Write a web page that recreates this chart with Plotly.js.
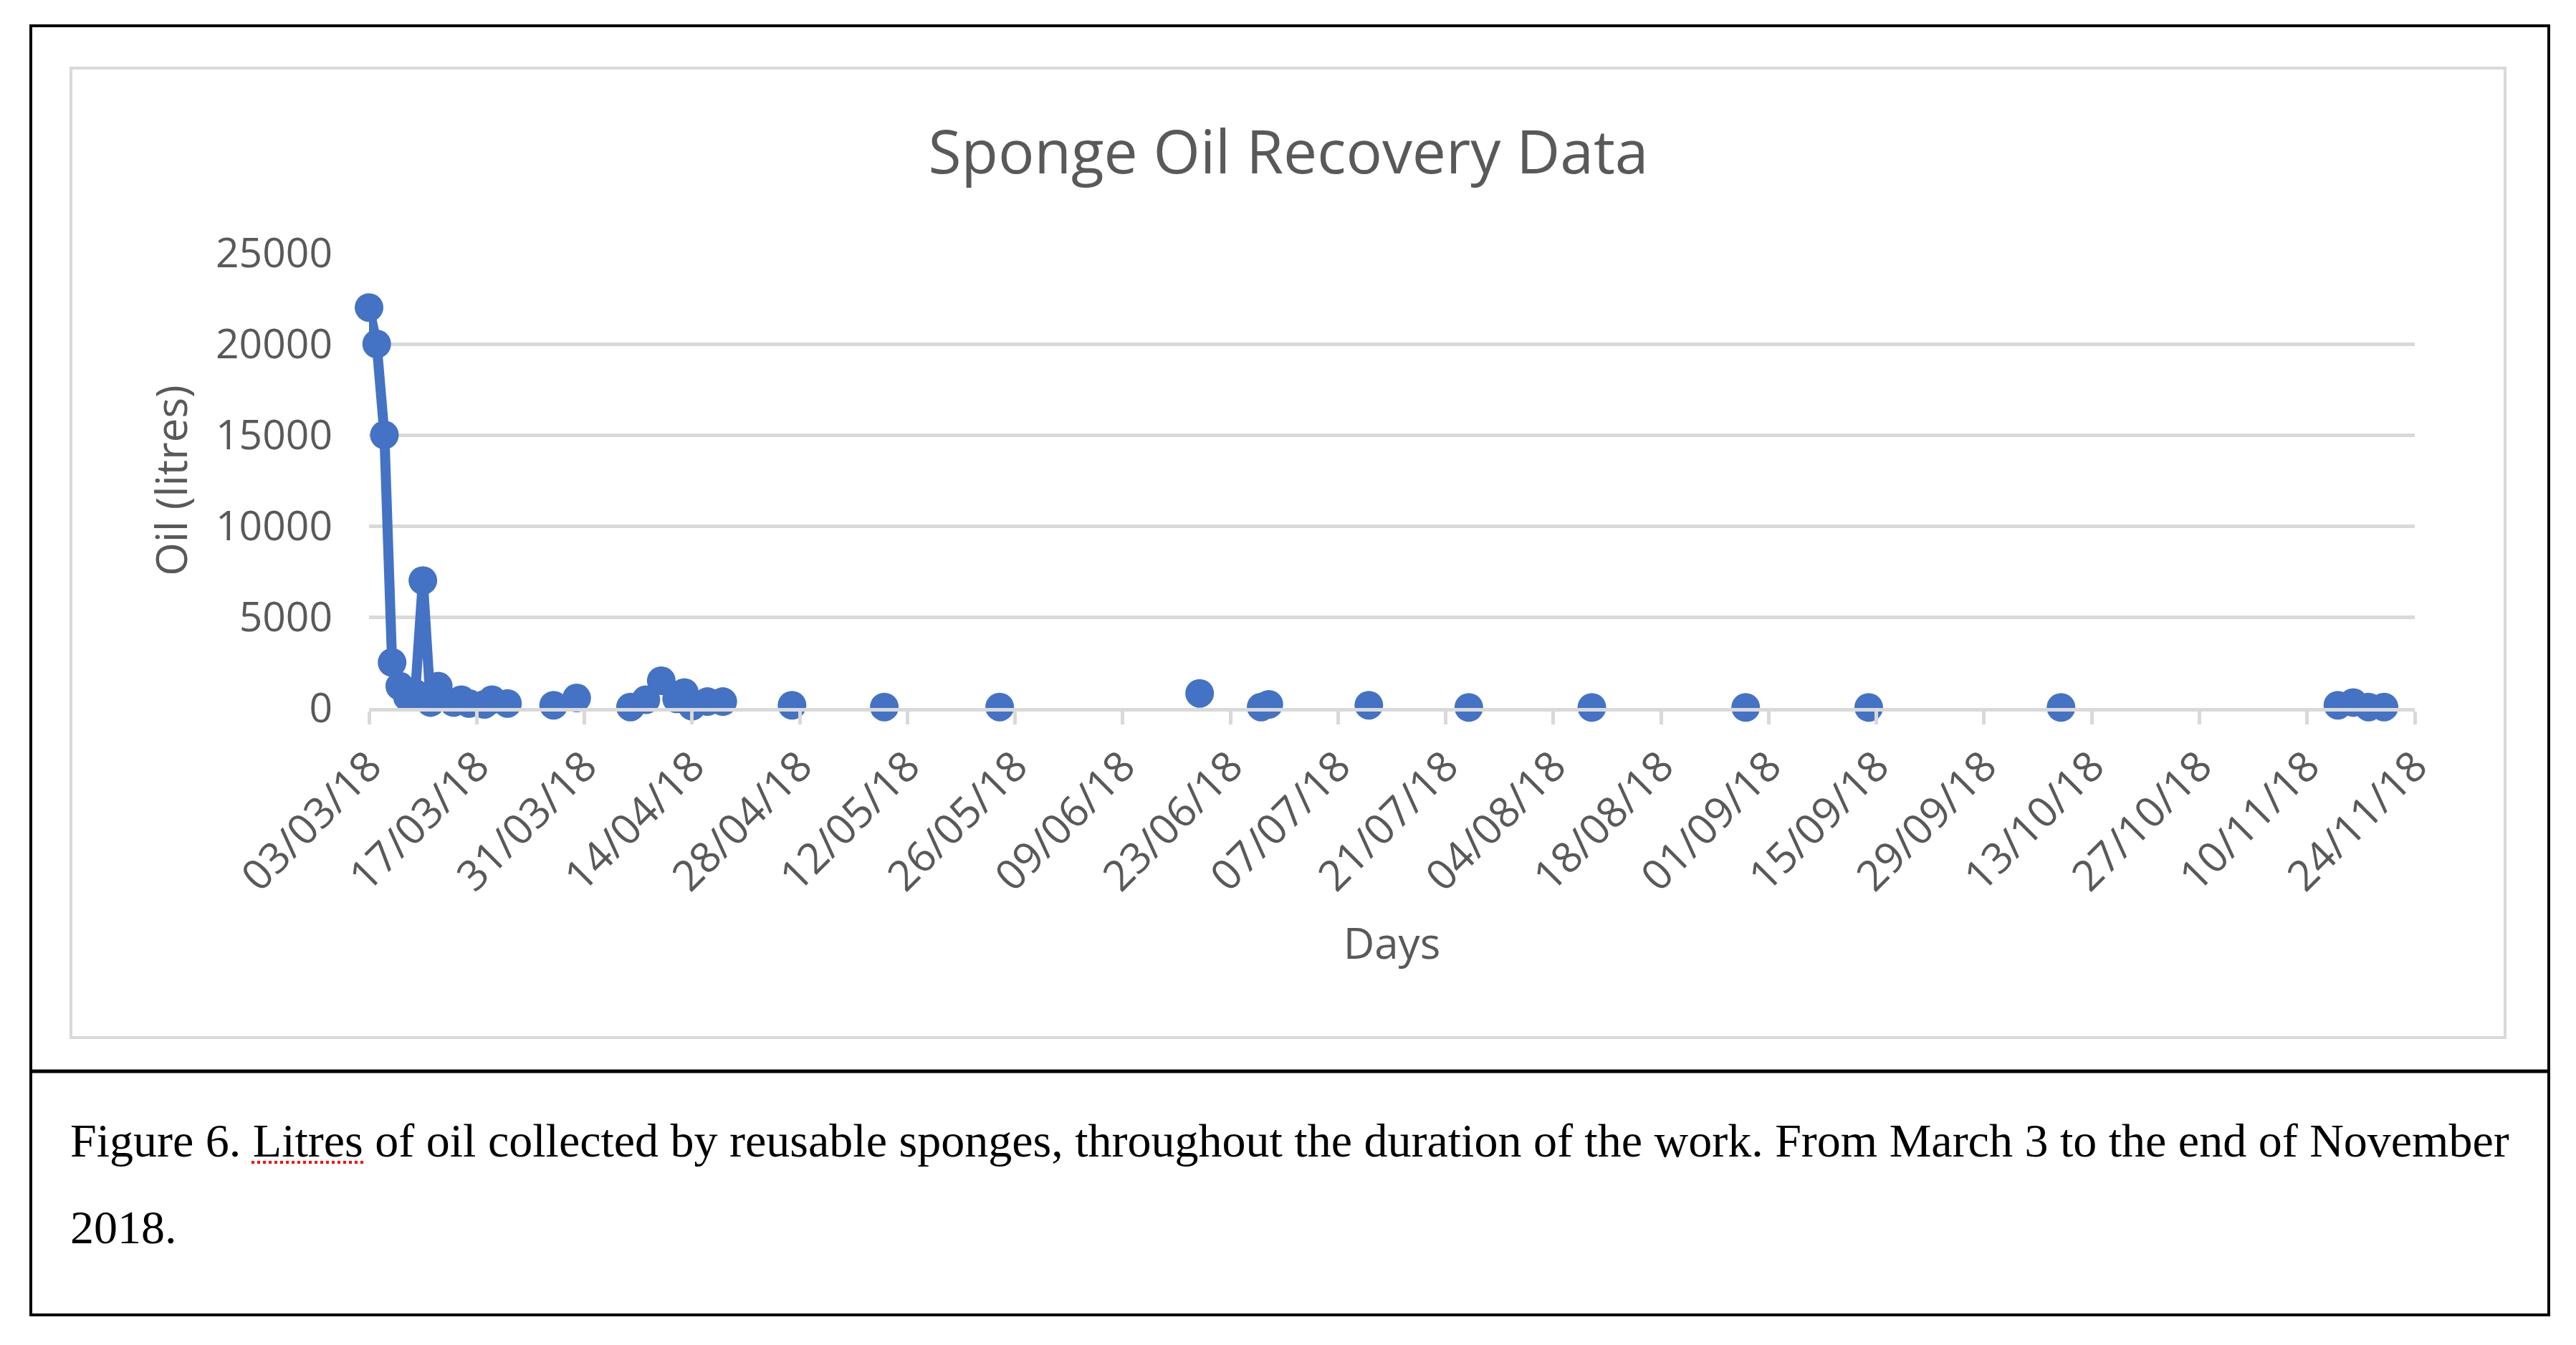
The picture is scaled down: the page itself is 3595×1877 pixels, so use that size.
<!DOCTYPE html>
<html>
<head>
<meta charset="utf-8">
<script src="https://cdn.plot.ly/plotly-3.0.1.min.js"></script>
<style>
  html, body { margin: 0; padding: 0; background: #ffffff; }
  #chart { width: 3595px; height: 1877px; }
</style>
</head>
<body>
<div id="chart"></div>
<script>
// ---- Data ----
const chartTitle = "Sponge Oil Recovery Data";
const xAxisTitle = "Days";
const yAxisTitle = "Oil (litres)";
const captionLine1 = "Figure 6. Litres of oil collected by reusable sponges, throughout the duration of the work. From March 3 to the end of November";
const captionLine2 = "2018.";

const dates = [
  "2018-03-03", "2018-03-04", "2018-03-05", "2018-03-06", "2018-03-07", "2018-03-08",
  "2018-03-09", "2018-03-10", "2018-03-11", "2018-03-12", "2018-03-14", "2018-03-15",
  "2018-03-16", "2018-03-18", "2018-03-19", "2018-03-21",
  "2018-03-27", "2018-03-30",
  "2018-04-06", "2018-04-08", "2018-04-10", "2018-04-12", "2018-04-13", "2018-04-14",
  "2018-04-16", "2018-04-18",
  "2018-04-27", "2018-05-09", "2018-05-24", "2018-06-19", "2018-06-27", "2018-06-28",
  "2018-07-11", "2018-07-24", "2018-08-09", "2018-08-29", "2018-09-14", "2018-10-09",
  "2018-11-14", "2018-11-16", "2018-11-18", "2018-11-20"
];
const oilLitres = [
  22000, 20000, 15000, 2500, 1200, 600,
  800, 7000, 300, 1200, 300, 450,
  250, 200, 450, 250,
  150, 550,
  50, 450, 1500, 500, 850, 100,
  350, 350,
  150, 50, 50, 800, 50, 200,
  150, 30, 30, 30, 30, 30,
  150, 300, 50, 50
];

const xRange = ["2018-03-03", "2018-11-24"];
const yTickValues = [0, 5000, 10000, 15000, 20000, 25000];
const maxGapDays = 3; // cells left blank in the sheet break the line

// ---- Build the series: break the line where the recording gap is long ----
const xs = [], ys = [];
for (let i = 0; i < dates.length; i++) {
  if (i > 0) {
    const gap = (new Date(dates[i]) - new Date(dates[i - 1])) / 86400000;
    if (gap > maxGapDays) { xs.push(dates[i - 1]); ys.push(null); }
  }
  xs.push(dates[i]); ys.push(oilLitres[i]);
}

// ---- Geometry helpers (pixel -> paper) ----
const W = 3595, H = 1877;
const PL = 515, PR = 3370, PT = 353, PB = 988;
const px = x => (x - PL) / (PR - PL);
const py = y => (PB - y) / (PB - PT);

const blue = "#4472C4";
const grey = "#595959";
const gridGrey = "#d9d9d9";
const font = "Open Sans, Noto Sans, Liberation Sans, sans-serif";

const trace = {
  type: "scatter",
  mode: "lines+markers",
  x: xs,
  y: ys,
  connectgaps: false,
  cliponaxis: false,
  line: { color: blue, width: 14 },
  marker: { color: blue, size: 40 },
  hoverinfo: "skip"
};

const layout = {
  width: W, height: H,
  paper_bgcolor: "#ffffff",
  plot_bgcolor: "#ffffff",
  showlegend: false,
  margin: { l: PL, r: W - PR, t: PT, b: H - PB, pad: 0 },
  title: {
    text: chartTitle,
    xref: "container", yref: "container",
    x: 1798 / W, y: 1 - 213 / H,
    xanchor: "center", yanchor: "middle",
    font: { family: font, size: 84, color: grey }
  },
  xaxis: {
    type: "date",
    range: xRange,
    tick0: xRange[0],
    dtick: 14 * 86400000,
    tickformat: "%d/%m/%y",
    tickangle: -45,
    ticks: "outside",
    ticklen: 18,
    tickwidth: 5,
    tickcolor: gridGrey,
    showline: true,
    linecolor: gridGrey,
    linewidth: 5,
    showgrid: false,
    zeroline: false,
    tickfont: { family: font, size: 59, color: grey },
    title: { text: xAxisTitle, standoff: 40, font: { family: font, size: 60, color: grey } },
    automargin: false,
    fixedrange: true
  },
  yaxis: {
    range: [0, 25000],
    tickvals: yTickValues,
    ticktext: yTickValues.map(String),
    ticks: "",
    ticklabelstandoff: 50,
    showgrid: true,
    gridcolor: gridGrey,
    gridwidth: 5,
    zeroline: false,
    showline: false,
    tickfont: { family: font, size: 57, color: grey },
    title: { text: yAxisTitle, standoff: 20, font: { family: font, size: 60, color: grey } },
    automargin: false,
    fixedrange: true
  },
  shapes: [
    // outer black frame
    { type: "rect", xref: "paper", yref: "paper", x0: px(43), x1: px(3557), y0: py(36), y1: py(1835),
      line: { color: "#000000", width: 4 }, layer: "below" },
    // divider between chart and caption
    { type: "line", xref: "paper", yref: "paper", x0: px(43), x1: px(3557), y0: py(1495), y1: py(1495),
      line: { color: "#000000", width: 5 } },
    // chart area border
    { type: "rect", xref: "paper", yref: "paper", x0: px(99), x1: px(3496), y0: py(95), y1: py(1448),
      line: { color: gridGrey, width: 4 }, layer: "below" },
    // spell-check squiggle under "Litres"
    { type: "line", xref: "paper", yref: "paper", x0: px(351), x1: px(507), y0: py(1622), y1: py(1622),
      line: { color: "#ff0000", width: 4, dash: "dot" } }
  ],
  annotations: [
    { xref: "paper", yref: "paper", x: px(96), y: py(1591), xanchor: "left", yanchor: "middle",
      showarrow: false, text: captionLine1,
      font: { family: "Liberation Serif, Times New Roman, serif", size: 66, color: "#000000" } },
    { xref: "paper", yref: "paper", x: px(96), y: py(1713), xanchor: "left", yanchor: "middle",
      showarrow: false, text: captionLine2,
      font: { family: "Liberation Serif, Times New Roman, serif", size: 66, color: "#000000" } }
  ]
};

Plotly.newPlot("chart", [trace], layout, { staticPlot: true, displayModeBar: false });
</script>
</body>
</html>
